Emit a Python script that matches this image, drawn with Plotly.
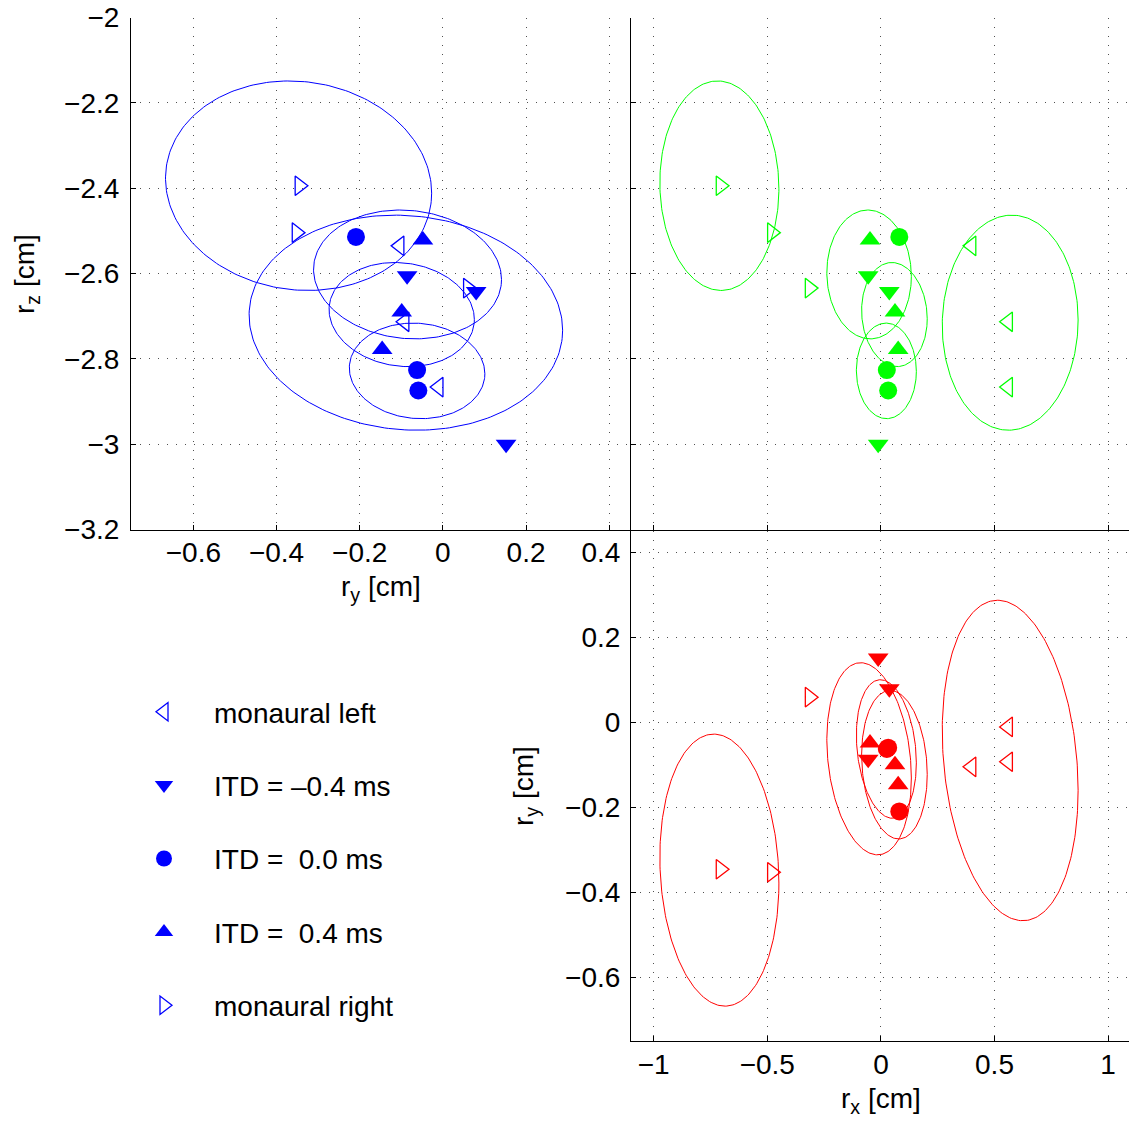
import numpy as np
import plotly.graph_objects as go

W, H = 1129, 1126
FONT = "Liberation Sans, Arial, Helvetica, sans-serif"

# ---------------- data (3-D positions in cm) ----------------
condition_names = ["monaural left", "ITD = \u20130.4 ms", "ITD =\u00a0\u00a00.0 ms",
                   "ITD =\u00a0\u00a00.4 ms", "monaural right"]
condition_symbols = ["triangle-left-open", "triangle-down", "circle",
                     "triangle-up", "triangle-right-open"]

left_rx = [0.399, 0.560, 0.560]
left_ry = [-0.104, -0.092, -0.010]
left_rz = [-2.535, -2.713, -2.866]

itd_m04_rx = [-0.056, 0.037, -0.012]
itd_m04_ry = [-0.086, 0.080, 0.152]
itd_m04_rz = [-2.605, -2.642, -3.000]

itd_0_rx = [0.081, 0.026, 0.032]
itd_0_ry = [-0.209, -0.062, -0.059]
itd_0_rz = [-2.514, -2.826, -2.874]

itd_p04_rx = [-0.048, 0.062, 0.076]
itd_p04_ry = [-0.048, -0.099, -0.146]
itd_p04_rz = [-2.521, -2.690, -2.778]

right_rx = [-0.706, -0.480, -0.314]
right_ry = [-0.345, -0.352, 0.060]
right_rz = [-2.394, -2.504, -2.634]

# confidence ellipsoids per condition (same order as condition_names)
ell_cx = [0.569, -0.052, 0.024, 0.0595, -0.711]
ell_cy = [-0.089, -0.085, -0.062, -0.099, -0.347]
ell_cz = [-2.715, -2.602, -2.828, -2.696, -2.394]
ell_hx = [0.299, 0.186, 0.132, 0.1444, 0.262]
ell_hy = [0.377, 0.226, 0.163, 0.1747, 0.320]
ell_hz = [0.252, 0.151, 0.112, 0.122, 0.2455]
ell_rxy = [-0.186, -0.20, -0.20, -0.13, -0.095]
ell_rxz = [0.025, -0.03, -0.01, -0.08, -0.03]
ell_ryz = [-0.07, -0.079, -0.06, -0.095, -0.071]

ry_ticks = [-0.6, -0.4, -0.2, 0, 0.2, 0.4]
ry_ticktext = ["\u22120.6", "\u22120.4", "\u22120.2", "0", "0.2", ""]  # 0.4 shared with lower panel label
rz_ticks = [-3.2, -3.0, -2.8, -2.6, -2.4, -2.2, -2.0]
rx_ticks = [-1, -0.5, 0, 0.5, 1]
ry2_ticks = [-0.6, -0.4, -0.2, 0, 0.2, 0.4]

# ---------------- assemble ----------------
pts = {
    "rx": [left_rx, itd_m04_rx, itd_0_rx, itd_p04_rx, right_rx],
    "ry": [left_ry, itd_m04_ry, itd_0_ry, itd_p04_ry, right_ry],
    "rz": [left_rz, itd_m04_rz, itd_0_rz, itd_p04_rz, right_rz],
}
ctr = {"rx": ell_cx, "ry": ell_cy, "rz": ell_cz}
half = {"rx": ell_hx, "ry": ell_hy, "rz": ell_hz}
corr = {("rx", "ry"): ell_rxy, ("rx", "rz"): ell_rxz, ("ry", "rz"): ell_ryz}

panels = [
    dict(xa="x", ya="y", u="ry", v="rz", color="#0000ff", legend=True),
    dict(xa="x2", ya="y2", u="rx", v="rz", color="#00ff00", legend=False),
    dict(xa="x3", ya="y3", u="rx", v="ry", color="#ff0000", legend=False),
]


def ellipse(cu, cv, hu, hv, rho, n=240):
    t = np.linspace(0, 2 * np.pi, n)
    u = cu + hu * np.cos(t)
    v = cv + hv * (rho * np.cos(t) + np.sqrt(1 - rho ** 2) * np.sin(t))
    return u, v


fig = go.Figure()
for p in panels:
    for k in range(5):
        u, v = ellipse(ctr[p["u"]][k], ctr[p["v"]][k], half[p["u"]][k], half[p["v"]][k],
                       corr[(p["u"], p["v"])][k])
        fig.add_trace(go.Scatter(x=u, y=v, mode="lines", xaxis=p["xa"], yaxis=p["ya"],
                                 line=dict(color=p["color"], width=1),
                                 showlegend=False, hoverinfo="skip"))
for p in panels:
    for k in range(5):
        is_open = condition_symbols[k].endswith("open")
        size = 17 if is_open else 18
        fig.add_trace(go.Scatter(
            x=pts[p["u"]][k], y=pts[p["v"]][k], mode="markers",
            xaxis=p["xa"], yaxis=p["ya"], name=condition_names[k],
            legendgroup="g%d" % k, showlegend=p["legend"],
            marker=dict(symbol=condition_symbols[k], size=size, color=p["color"],
                        line=dict(color=p["color"], width=1.3 if is_open else 0))))


def axis(domain, rng, ticks, labels, anchor, standoff, ticktext=None):
    d = dict(domain=domain, range=rng, tickvals=ticks, showticklabels=labels,
             anchor=anchor, ticks="inside", ticklen=5, tickcolor="black", tickwidth=1,
             showline=True, linecolor="black", linewidth=1, mirror=False,
             showgrid=True, gridcolor="#505050", gridwidth=1, griddash="1px,8px",
             zeroline=False, tickfont=dict(family=FONT, size=28, color="black"),
             ticklabelstandoff=standoff, fixedrange=True, automargin=False)
    if ticktext is not None:
        d["ticktext"] = ticktext
    return d


xl, xm, xr = 131 / W, 630 / W, 631 / W
yt_top, yt_bot = 1 - 17.6 / H, 1 - 529.6 / H
yb_top, yb_bot = 1 - 531.4 / H, 1 - 1041.4 / H

fig.update_layout(
    width=W, height=H, margin=dict(l=0, r=0, t=0, b=0, autoexpand=False),
    paper_bgcolor="white", plot_bgcolor="rgba(0,0,0,0)",
    font=dict(family=FONT, size=28, color="black"),
    xaxis=axis([xl, xm], [-0.75, 0.45], ry_ticks, True, "y", -2, ry_ticktext),
    yaxis=axis([yt_bot, yt_top], [-3.2, -2.0], rz_ticks, True, "x", 5),
    xaxis2=axis([xr, 1.0], [-1.1, 1.092], rx_ticks, False, "y2", -2),
    yaxis2=axis([yt_bot, yt_top], [-3.2, -2.0], rz_ticks, False, "x2", 5),
    xaxis3=axis([xr, 1.0], [-1.1, 1.092], rx_ticks, True, "y3", -2),
    yaxis3=axis([yb_bot, yb_top], [-0.75, 0.45], ry2_ticks, True, "x3", 4),
    legend=dict(x=114 / W, y=1 - 687 / H, xanchor="left", yanchor="top",
                font=dict(family=FONT, size=28, color="black"),
                bgcolor="rgba(0,0,0,0)", borderwidth=0, itemwidth=90,
                tracegroupgap=34, traceorder="grouped", itemclick=False),
    showlegend=True,
)

ann = dict(showarrow=False, font=dict(family=FONT, size=28, color="black"),
           xref="paper", yref="paper")
fig.add_annotation(text="r<sub>y</sub> [cm]", x=381 / W, y=1 - 588 / H,
                   xanchor="center", yanchor="middle", **ann)
fig.add_annotation(text="r<sub>z</sub> [cm]", x=26 / W, y=1 - 274 / H, textangle=-90,
                   xanchor="center", yanchor="middle", **ann)
fig.add_annotation(text="r<sub>y</sub> [cm]", x=525 / W, y=1 - 786 / H, textangle=-90,
                   xanchor="center", yanchor="middle", **ann)
fig.add_annotation(text="r<sub>x</sub> [cm]", x=881 / W, y=1 - 1100 / H,
                   xanchor="center", yanchor="middle", **ann)

fig.write_html("out.html", config={"displayModeBar": False, "staticPlot": True},
               post_script="document.body.style.margin='0px';"
                           "document.body.style.overflow='hidden';")
